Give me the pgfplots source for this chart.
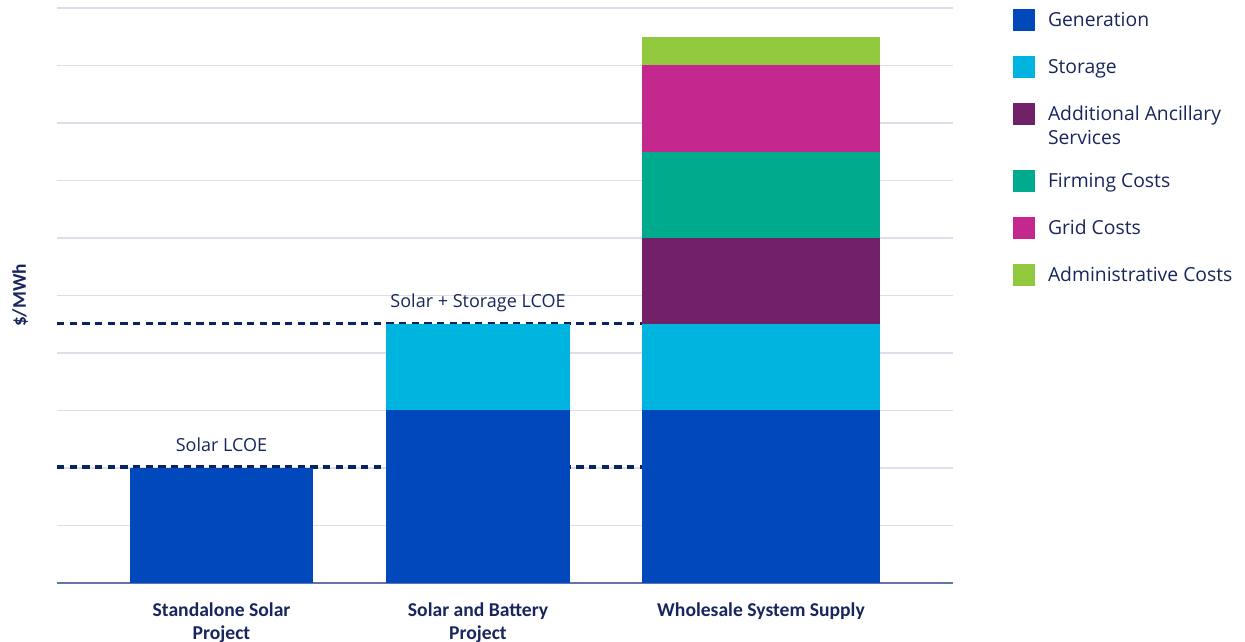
\documentclass[border=0pt]{standalone}
\usepackage{pgfplots}
\pgfplotsset{compat=1.18}
\usepackage{fontspec}
\setmainfont{Open Sans}
\newfontfamily\tickfont{Carlito}
\definecolor{genc}{RGB}{0,72,187}
\definecolor{stoc}{RGB}{0,180,224}
\definecolor{ancc}{RGB}{114,33,104}
\definecolor{firc}{RGB}{0,170,140}
\definecolor{gridcc}{RGB}{196,40,143}
\definecolor{admc}{RGB}{146,200,62}
\definecolor{navy}{RGB}{24,38,94}
\definecolor{dashc}{RGB}{10,36,99}
\definecolor{gridc}{RGB}{220,222,236}
\definecolor{axisc}{RGB}{100,118,165}
\begin{document}
\begin{tikzpicture}
\begin{axis}[
  at={(0,0)}, anchor=south west,
  scale only axis, width=672pt, height=431.25pt,
  xmin=57, xmax=953, ymin=0, ymax=10,
  clip=false,
  ybar,
  axis lines*=left,
  y axis line style={draw=none},
  x axis line style={draw=axisc, line width=1.5pt},
  ytick={0,1,...,10}, yticklabels={},
  ymajorgrids, major grid style={draw=gridc, line width=0.8pt},
  major tick length=0pt,
  xtick={221.5,478,761},
  xticklabels={{Standalone Solar\\Project},{Solar and Battery\\Project},{Wholesale System Supply}},
  xticklabel style={font=\tickfont\bfseries\fontsize{14.7pt}{17.25pt}\selectfont, align=center, text=navy, inner sep=0pt, anchor=north, yshift=-14.3pt},
  legend style={at={(1.06696,0.99826)}, anchor=north west, draw=none, fill=none,
    inner sep=0pt, outer sep=0pt, row sep=0pt, column sep=9.75pt,
    font=\fontsize{14.5pt}{18pt}\selectfont, text=navy,
    cells={anchor=base west}, nodes={inner sep=0pt}},
  legend image code/.code={\path[draw=none,fill=none] (0pt,-21.8pt) rectangle (16.5pt,13.45pt);\fill[#1] (0pt,-3.05pt) rectangle (16.5pt,13.45pt);},
]
\addlegendimage{fill=genc, draw=none}
\addlegendentry{Generation}
\addlegendimage{fill=stoc, draw=none}
\addlegendentry{Storage}
\addlegendimage{draw=none, fill=none, legend image code/.code={\path[draw=none,fill=none] (0pt,-36.8pt) rectangle (16.5pt,13.45pt);\fill[ancc] (0pt,-3.05pt) rectangle (16.5pt,13.45pt);}}
\addlegendentry{\begin{tabular}[t]{@{}l@{}}Additional Ancillary\\Services\end{tabular}}
\addlegendimage{fill=firc, draw=none}
\addlegendentry{Firming Costs}
\addlegendimage{fill=gridcc, draw=none}
\addlegendentry{Grid Costs}
\addlegendimage{fill=admc, draw=none}
\addlegendentry{Administrative Costs}

% dashed LCOE reference lines (behind the bars)
\addplot[sharp plot, forget plot, draw=dashc, line width=2.6pt, dash pattern=on 5.4pt off 4.1pt] coordinates {(57,2.015) (642,2.015)};
\addplot[sharp plot, forget plot, draw=dashc, line width=2.6pt, dash pattern=on 5.4pt off 4.1pt] coordinates {(57,4.515) (642,4.515)};

% bars, drawn as cumulative totals from the top segment down
\addplot[forget plot, bar shift=0pt, bar width=238, fill=admc, draw=none] coordinates {(761,9.5)};
\addplot[forget plot, bar shift=0pt, bar width=238, fill=gridcc, draw=none] coordinates {(761,9)};
\addplot[forget plot, bar shift=0pt, bar width=238, fill=firc, draw=none] coordinates {(761,7.5)};
\addplot[forget plot, bar shift=0pt, bar width=238, fill=ancc, draw=none] coordinates {(761,6)};
\addplot[forget plot, bar shift=0pt, bar width=238, fill=stoc, draw=none] coordinates {(761,4.5)};
\addplot[forget plot, bar shift=0pt, bar width=184, fill=stoc, draw=none] coordinates {(478,4.5)};
\addplot[forget plot, bar shift=0pt, bar width=238, fill=genc, draw=none] coordinates {(761,3)};
\addplot[forget plot, bar shift=0pt, bar width=184, fill=genc, draw=none] coordinates {(478,3)};
\addplot[forget plot, bar shift=0pt, bar width=183, fill=genc, draw=none] coordinates {(221.5,2)};

\node[font=\fontsize{13.5pt}{18pt}\selectfont, text=navy] at (axis cs:221.5,2.4) {Solar LCOE};
\node[font=\fontsize{13.5pt}{18pt}\selectfont, text=navy] at (axis cs:478,4.87) {Solar + Storage LCOE};
\node[rotate=90, font=\tickfont\bfseries\fontsize{14.5pt}{17pt}\selectfont, text=navy] at (axis cs:20,5) {\$/MWh};
\end{axis}
\pgfresetboundingbox
\useasboundingbox (-42.75pt,-44.25pt) rectangle (891pt,437.25pt);
\end{tikzpicture}
\end{document}
